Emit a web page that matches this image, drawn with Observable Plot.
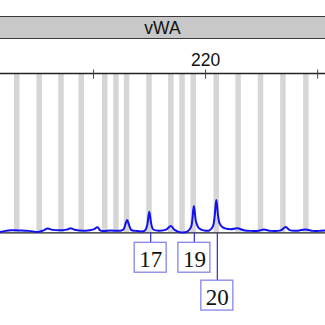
<!DOCTYPE html>
<html>
<head>
<meta charset="utf-8">
<script src="https://cdn.jsdelivr.net/npm/d3@7"></script>
<script src="https://cdn.jsdelivr.net/npm/@observablehq/plot@0.6"></script>
<style>
  html, body { margin: 0; padding: 0; background: #fff; }
  #hdr { position: relative; width: 325px; height: 40px; }
  #band { position: absolute; top: 16px; left: 0; width: 325px; height: 23px; box-sizing: border-box;
    border-top: 1.5px solid #3a3a3a; border-bottom: 1.5px solid #3a3a3a; background: #c8c8c8;
    font-family: "Liberation Sans", Arial, sans-serif; font-size: 17.5px; line-height: 23px;
    text-align: center; color: #111; }
  .allele-label text { font-family: "Liberation Serif", "Times New Roman", serif !important; }
</style>
</head>
<body>
<div id="hdr"><div id="band">vWA</div></div>
<script>
// Marker name
const marker = "vWA";
// Axis ticks (bp) and labelled tick
const tickValues = [200, 220, 240];
const labelledTicks = [220];
// Allelic ladder bins (bp)
const bins = [186.3, 190.3, 194.2, 197.8, 202.0, 204.0, 205.9, 209.9, 213.8, 215.8, 217.8, 221.9, 225.8, 229.8, 233.8, 237.9];
// Electropherogram trace: size (bp) and intensity (RFU)
const traceBp = [183.39,184.29,185.18,186.61,188.39,190.18,191.07,191.79,192.68,194.46,195.36,195.89,196.61,198.57,200.0,200.71,201.25,203.04,204.82,205.36,205.71,206.02,206.34,206.70,207.50,209.11,209.55,209.95,210.27,210.63,211.61,213.04,213.80,214.46,215.54,216.79,217.41,217.91,218.30,218.75,219.64,220.71,221.34,221.91,222.23,222.50,223.04,224.46,225.66,226.79,228.04,229.46,230.41,231.61,233.39,234.29,235.0,236.43,237.86,239.11,240.18,241.43];
const traceRfu = [10,20,27,24,20,10,25,43,30,27,35,47,32,22,35,57,22,23,22,35,90,130,80,30,20,20,70,213,100,35,22,35,70,30,5,15,60,270,110,50,25,25,70,330,170,95,55,37,47,27,20,22,33,20,25,60,27,22,35,20,20,25];
// Called alleles
const alleleNames = ["17", "19", "20"];
const alleleSizes = [210.2, 218.0, 222.1];
const alleleRows = [0, 0, 1];

const trace = traceBp.map((bp, i) => ({bp, rfu: traceRfu[i]}));
const alleles = alleleNames.map((a, i) => ({allele: a, size: alleleSizes[i], row: alleleRows[i]}));
const rowTop = r => r === 0 ? -100 : -480;
const boxH = 300;

const chart = Plot.plot({
  width: 325,
  height: 285,
  marginTop: 33,
  marginBottom: 0,
  marginLeft: 0,
  marginRight: 0,
  style: {fontFamily: "'Liberation Sans', Arial, sans-serif", background: "white"},
  x: {domain: [183.4, 241.4], axis: null},
  y: {domain: [-930, 1600], axis: null},
  marks: [
    Plot.ruleX(bins, {x: d => d, y1: 0, y2: 1600, stroke: "#d6d6d6", strokeWidth: 5.5}),
    Plot.ruleY([1600], {stroke: "#222", strokeWidth: 1.5}),
    Plot.axisX({anchor: "top", ticks: tickValues, tickSize: 9, dy: 4.5, tickFormat: () => "", stroke: "#444", strokeWidth: 1}),
    Plot.axisX({anchor: "top", ticks: labelledTicks, tickSize: 0, tickPadding: 8, fontSize: 17.5, fill: "#111"}),
    Plot.ruleY([0], {stroke: "#222", strokeWidth: 1.2}),
    Plot.line(trace, {x: "bp", y: "rfu", stroke: "#1010f0", strokeWidth: 2, curve: "catmull-rom"}),
    Plot.ruleX(alleles, {x: "size", y1: 0, y2: d => rowTop(d.row), stroke: "#3a3ad2", strokeWidth: 1.3}),
    Plot.rect(alleles, {x1: "size", x2: "size", y1: d => rowTop(d.row), y2: d => rowTop(d.row) - boxH,
      insetLeft: -16, insetRight: -16, fill: "white", stroke: "#8585e8", strokeWidth: 1.3}),
    Plot.text(alleles, {x: "size", y: d => rowTop(d.row) - 172, text: "allele", fontSize: 23,
      fontFamily: "Liberation Serif", fill: "#111", className: "allele-label"})
  ]
});
chart.querySelectorAll("text").forEach(t => {
  if (alleleNames.includes(t.textContent)) t.setAttribute("font-family", "Liberation Serif");
});
document.body.appendChild(chart);
</script>
</body>
</html>
